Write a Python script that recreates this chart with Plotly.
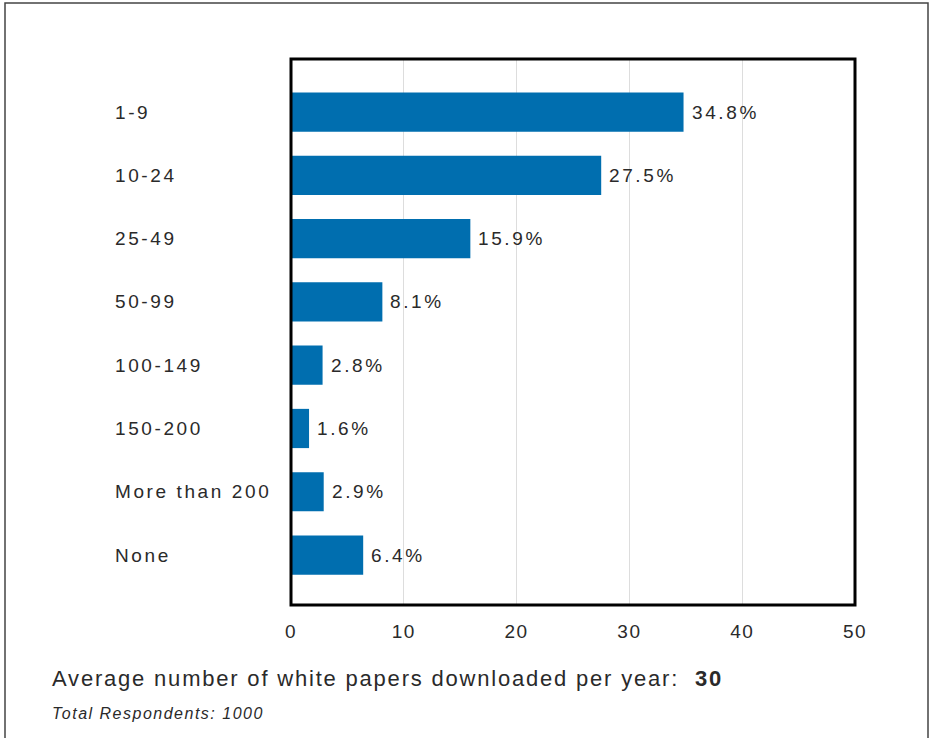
import plotly.graph_objects as go

categories = ["1-9", "10-24", "25-49", "50-99", "100-149", "150-200", "More than 200", "None"]
values = [34.8, 27.5, 15.9, 8.1, 2.8, 1.6, 2.9, 6.4]
value_labels = ["34.8%", "27.5%", "15.9%", "8.1%", "2.8%", "1.6%", "2.9%", "6.4%"]
x_ticks = [0, 10, 20, 30, 40, 50]

W, H = 934, 738
L, R, T, B = 291, 79, 59, 133
pw, ph = W - L - R, H - T - B
FONT = "Liberation Sans, Arial, sans-serif"
TXT = "#2a2a2a"

def px_x(px):
    return (px - L) / pw

def px_y(py):
    return (H - B - py) / ph

def sp(s, ls):
    return '<span style="letter-spacing:%spx">%s</span>' % (ls, s)

fig = go.Figure()
fig.add_trace(go.Bar(
    y=categories, x=values, orientation="h",
    marker=dict(color="#006EAF", line=dict(width=0)),
    width=0.62,
    hoverinfo="skip",
))

for c, v, lab in zip(categories, values, value_labels):
    fig.add_annotation(x=px_x(113), xref="paper", y=c, yref="y", text=sp(c, 2.6),
                       showarrow=False, xanchor="left",
                       font=dict(size=19, color=TXT, family=FONT))
    fig.add_annotation(x=v, xref="x", y=c, yref="y", text=sp(lab, 2.6),
                       showarrow=False, xanchor="left", xshift=6,
                       font=dict(size=19, color=TXT, family=FONT))

fig.add_annotation(x=px_x(50), xref="paper", y=px_y(678), yref="paper",
                   text=sp("Average number of white papers downloaded per year:  <b>30</b>", 1.8),
                   showarrow=False, xanchor="left", yanchor="middle",
                   font=dict(size=22, color=TXT, family=FONT))
fig.add_annotation(x=px_x(50), xref="paper", y=px_y(713), yref="paper",
                   text=sp("<i>Total Respondents: 1000</i>", 1.5),
                   showarrow=False, xanchor="left", yanchor="middle",
                   font=dict(size=16, color=TXT, family=FONT))

fig.add_shape(type="rect", xref="paper", yref="paper",
              x0=px_x(5), x1=px_x(928), y0=px_y(760), y1=px_y(3),
              line=dict(color="#444444", width=1.5), layer="below")
fig.add_shape(type="rect", xref="paper", yref="paper",
              x0=0, x1=1, y0=0, y1=1,
              line=dict(color="black", width=3), layer="above")

fig.update_layout(
    width=W, height=H,
    margin=dict(l=L, r=R, t=T, b=B),
    paper_bgcolor="white", plot_bgcolor="white",
    showlegend=False,
    font=dict(family=FONT, color=TXT),
    xaxis=dict(range=[0, 50], tickvals=x_ticks, ticktext=[sp(str(t), 1.5) for t in x_ticks],
               showgrid=True, gridcolor="#DDDDDD",
               gridwidth=1, zeroline=False, showline=False, ticks="",
               tickfont=dict(size=19, color=TXT), ticklabelstandoff=13, fixedrange=True),
    yaxis=dict(range=[7.79, -0.84], showticklabels=False, showgrid=False,
               zeroline=False, showline=False, ticks=""),
)

fig.write_html("out.html")
